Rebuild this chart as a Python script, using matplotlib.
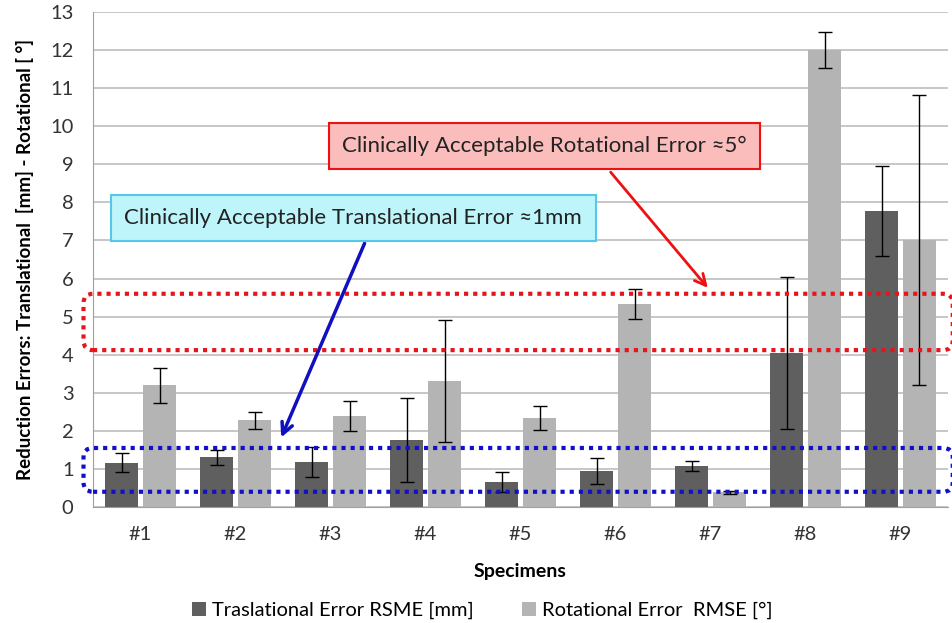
import numpy as np
import matplotlib.pyplot as plt
from matplotlib.patches import FancyBboxPatch

plt.rcParams['font.family'] = ['Lato', 'DejaVu Sans']

specimens = ['#1', '#2', '#3', '#4', '#5', '#6', '#7', '#8', '#9']
trans_err = [1.16, 1.31, 1.18, 1.76, 0.66, 0.95, 1.08, 4.04, 7.77]
trans_sd = [0.25, 0.20, 0.40, 1.10, 0.26, 0.34, 0.13, 2.00, 1.18]
rot_err = [3.20, 2.28, 2.39, 3.31, 2.34, 5.33, 0.39, 12.00, 7.01]
rot_sd = [0.46, 0.22, 0.40, 1.60, 0.32, 0.40, 0.04, 0.48, 3.80]

fig = plt.figure(figsize=(9.52, 6.23), dpi=100)
ax = fig.add_axes([93 / 952, 116 / 623, 855 / 952, 495 / 623])

x = np.arange(len(specimens))
w = 0.34
err_kw = dict(ecolor='black', elinewidth=1, capsize=5, capthick=1)
ax.bar(x - 0.2, trans_err, w, yerr=trans_sd, color='#5f5f5f',
       label='Traslational Error RSME [mm]', error_kw=err_kw, zorder=3)
ax.bar(x + 0.2, rot_err, w, yerr=rot_sd, color='#b4b4b4',
       label='Rotational Error  RMSE [°]', error_kw=err_kw, zorder=3)

ax.set_xlim(-0.5, 8.5)
ax.set_ylim(0, 13)
ax.set_yticks(range(0, 14))
ax.set_xticks(x)
ax.set_xticklabels(specimens)
ax.tick_params(axis='both', length=0, labelsize=14.5, colors='#333333')
ax.tick_params(axis='y', pad=14)
ax.tick_params(axis='x', pad=14)
ax.yaxis.grid(True, color='#bdbdbd', linewidth=1.2, zorder=0)
for s in ['top', 'right']:
    ax.spines[s].set_visible(False)
for s in ['left', 'bottom']:
    ax.spines[s].set_color('#a0a0a0')

ax.set_xlabel('Specimens', fontsize=14, fontweight='bold', labelpad=14)
ax.set_ylabel('Reduction Errors: Translational  [mm] - Rotational [ °]',
              fontsize=13.5, fontweight='bold', labelpad=12)

# dotted tolerance bands
for y0, y1, col in [(4.12, 5.6, '#e8141b'), (0.4, 1.55, '#1010c8')]:
    band = FancyBboxPatch((-0.6, y0), 9.15, y1 - y0,
                          boxstyle='round,pad=0,rounding_size=0.1',
                          mutation_aspect=2.5, fill=False, edgecolor=col,
                          linestyle=(0, (1, 1.2)), linewidth=3,
                          clip_on=False, zorder=4)
    ax.add_patch(band)

# callouts
ax.annotate('', xy=(5.99, 5.70), xytext=(4.93, 8.85),
            arrowprops=dict(arrowstyle='->,head_length=0.8,head_width=0.4',
                            color='#ee1111', lw=2), zorder=5)
ax.annotate('', xy=(1.47, 1.76), xytext=(2.37, 6.99),
            arrowprops=dict(arrowstyle='->,head_length=0.8,head_width=0.4',
                            color='#1010c0', lw=2.5), zorder=5)
ax.text(4.25, 9.48, 'Clinically Acceptable Rotational Error ≈5°',
        ha='center', va='center', fontsize=16, color='#222222', zorder=6,
        bbox=dict(boxstyle='square,pad=0.6', facecolor='#fbbcbc',
                  edgecolor='#ee1111', linewidth=1.5))
ax.text(2.24, 7.59, 'Clinically Acceptable Translational Error ≈1mm',
        ha='center', va='center', fontsize=16, color='#222222', zorder=6,
        bbox=dict(boxstyle='square,pad=0.6', facecolor='#bdf5fb',
                  edgecolor='#55c8ea', linewidth=1.5))

ax.legend(loc='upper center', bbox_to_anchor=(0.455, -0.155), ncol=2,
          frameon=False, fontsize=14.5, handlelength=0.7, handleheight=0.7,
          columnspacing=2.4, handletextpad=0.3)

fig.savefig('out.png', dpi=100)
